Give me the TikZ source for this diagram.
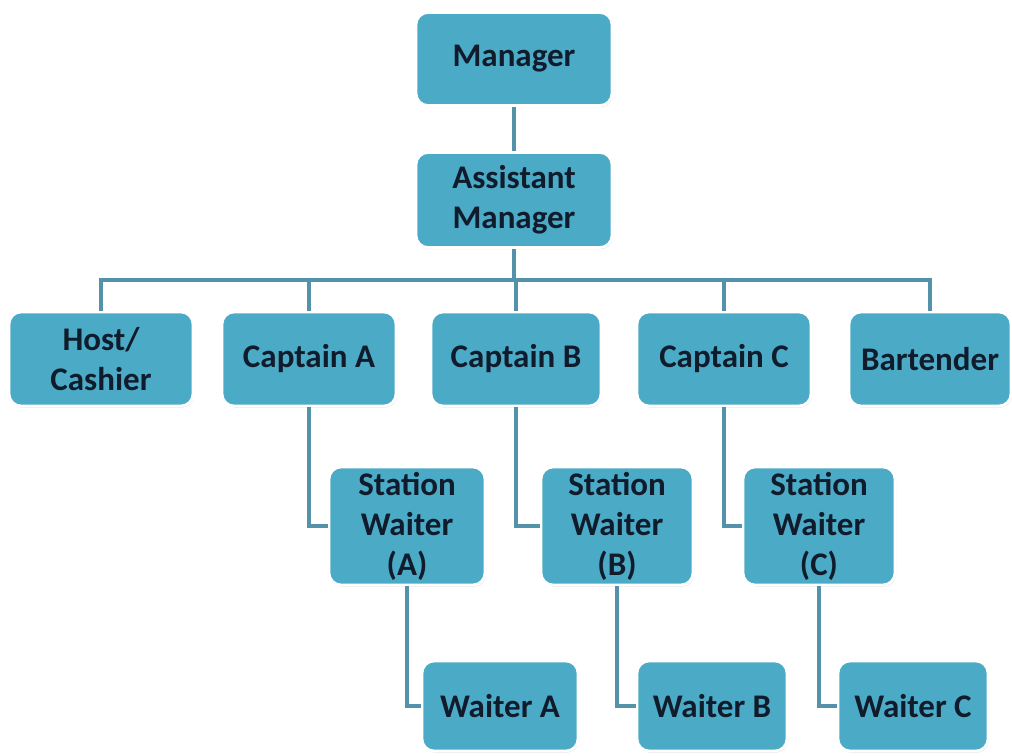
\documentclass[tikz,border=0pt]{standalone}
\usepackage{fontspec}
\setmainfont{Carlito}
\usetikzlibrary{shadows}

\definecolor{boxfill}{RGB}{75,170,198}
\definecolor{linkcol}{RGB}{84,146,170}
\definecolor{inkcol}{RGB}{16,28,44}

\tikzset{
	post/.style={draw=white, line width=1.4pt, fill=boxfill, rounded corners=6pt,
		text=inkcol, font=\fontsize{16.5}{20}\selectfont\bfseries, align=center,
		minimum width=87pt, minimum height=47pt, inner sep=0pt,
		drop shadow={shadow xshift=0.5pt, shadow yshift=-0.8pt, opacity=0.25}},
	link/.style={draw=linkcol, line width=1.6pt},
}

\begin{document}
\begin{tikzpicture}[x=0.5pt,y=-0.5pt]
	
	\useasboundingbox (0,0) rectangle (1012,755);
	
	% top of the chart
	\node[post, minimum width=98pt, minimum height=46.5pt] (mgr) at (514,59) {Manager};
	\node[post, minimum width=98pt, minimum height=47.5pt] (asst) at (514,200) {Assistant\\Manager};
	\coordinate (bus) at (514,280);
	
	% second row
	\node[post, minimum width=92pt] (host) at (101,359) {Host/\\Cashier};
	\node[post] (capA) at (309,359) {Captain A};
	\node[post, minimum width=85pt] (capB) at (516,359) {Captain B};
	\node[post] (capC) at (724,359) {Captain C};
	\node[post, minimum width=81pt] (bar) at (930,359) {Bartender};
	
	% station waiters
	\node[post, minimum width=78pt, minimum height=59pt] (swA) at (407,526) {Station\\Waiter\\(A)};
	\node[post, minimum width=76pt, minimum height=59pt] (swB) at (617,526) {Station\\Waiter\\(B)};
	\node[post, minimum width=76pt, minimum height=59pt] (swC) at (819,526) {Station\\Waiter\\(C)};
	
	% waiters
	\node[post, minimum width=78pt, minimum height=45pt] (wA) at (500,706) {Waiter A};
	\node[post, minimum width=75pt, minimum height=45pt] (wB) at (712,706) {Waiter B};
	\node[post, minimum width=75pt, minimum height=45pt] (wC) at (913,706) {Waiter C};
	
	\draw[link] (mgr) -- (asst);
	\draw[link] (asst) -- (bus);
	\foreach \n in {host,capA,capB,capC,bar}
		\draw[link] (\n.north) |- (bus);
	
	\draw[link] (capA.south) |- (swA.west);
	\draw[link] (capB.south) |- (swB.west);
	\draw[link] (capC.south) |- (swC.west);
	
	\draw[link] (swA.south) |- (wA.west);
	\draw[link] (swB.south) |- (wB.west);
	\draw[link] (swC.south) |- (wC.west);
	
\end{tikzpicture}
\end{document}
